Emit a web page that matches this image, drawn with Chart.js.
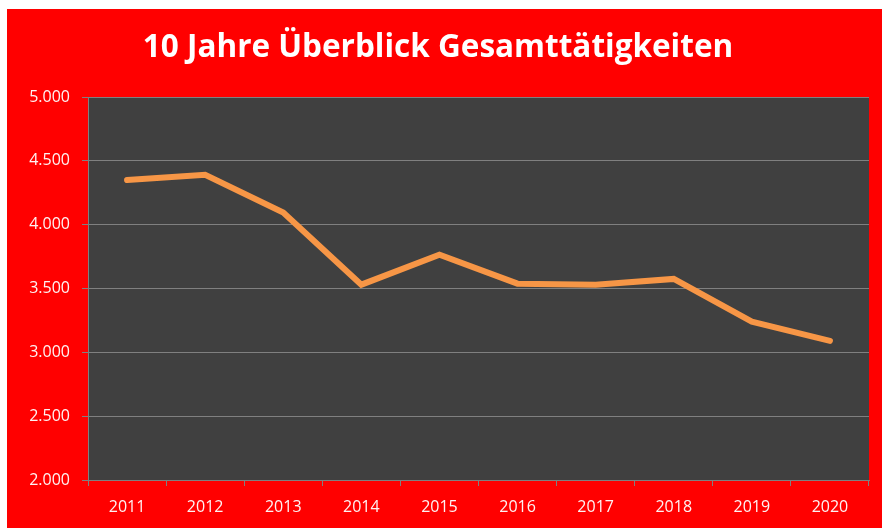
<!DOCTYPE html>
<html>
<head>
<meta charset="utf-8">
<script src="https://cdn.jsdelivr.net/npm/chart.js@4/dist/chart.umd.min.js"></script>
<style>
    html, body { margin: 0; padding: 0; background: #ffffff; }
    #wrap { position: absolute; left: 7px; top: 9px; width: 875px; height: 519px; }
</style>
</head>
<body>
<div id="wrap"><canvas id="lineChart"></canvas></div>
<script>
// DATA
const years = ["2011", "2012", "2013", "2014", "2015", "2016", "2017", "2018", "2019", "2020"];
const taetigkeiten = [4350, 4390, 4095, 3530, 3765, 3538, 3530, 3575, 3240, 3090];
const yTicks = [2000, 2500, 3000, 3500, 4000, 4500, 5000];

// NUMBER FORMAT (1.234)
function formatDE(v) {
    return String(v).replace(/\B(?=(\d{3})+(?!\d))/g, ".");
}

// BACKGROUNDS
const bgPlugin = {
    id: "bgPlugin",
    beforeDraw(chart) {
        const { ctx, chartArea: a } = chart;
        ctx.save();
        ctx.fillStyle = "#ff0000";
        ctx.fillRect(0, 0, chart.width, chart.height);
        ctx.fillStyle = "#404040";
        ctx.fillRect(a.left, a.top, a.right - a.left, a.bottom - a.top);
        ctx.restore();
    }
};

const tickFont = { family: "'Open Sans', sans-serif", size: 16 };

new Chart(document.getElementById("lineChart"), {
    type: "line",
    data: {
        labels: years,
        datasets: [{
            data: taetigkeiten,
            borderColor: "#f79646",
            borderWidth: 6,
            borderCapStyle: "round",
            borderJoinStyle: "miter",
            pointRadius: 0,
            tension: 0,
        }]
    },
    options: {
        responsive: true,
        maintainAspectRatio: false,
        animation: false,
        layout: { padding: { left: 0, right: 13, top: 0, bottom: 0 } },
        plugins: {
            legend: { display: false },
            tooltip: { enabled: false },
            title: {
                display: true,
                text: "10 Jahre Überblick Gesamttätigkeiten",
                color: "#ffffff",
                font: { family: "'Open Sans', sans-serif", size: 31.5, weight: "bold", lineHeight: 1.2 },
                padding: { top: 20, bottom: 30.2 },
            },
        },
        scales: {
            x: {
                offset: true,
                grid: { display: true, drawOnChartArea: false, offset: true, color: "#808080", tickLength: 6 },
                border: { color: "#808080" },
                ticks: { color: "#fff2f2", font: tickFont, padding: 12, maxRotation: 0 },
                afterFit(scale) { scale.height = 48; },
            },
            y: {
                min: 2000,
                max: 5000,
                afterBuildTicks(scale) { scale.ticks = yTicks.map((v) => ({ value: v })); },
                grid: { color: "#808080", tickLength: 6 },
                border: { color: "#808080" },
                ticks: { color: "#fff2f2", font: tickFont, padding: 12, callback: (v) => formatDE(v) },
                afterFit(scale) { scale.width = 81; },
            },
        },
    },
    plugins: [bgPlugin],
});
</script>
</body>
</html>
